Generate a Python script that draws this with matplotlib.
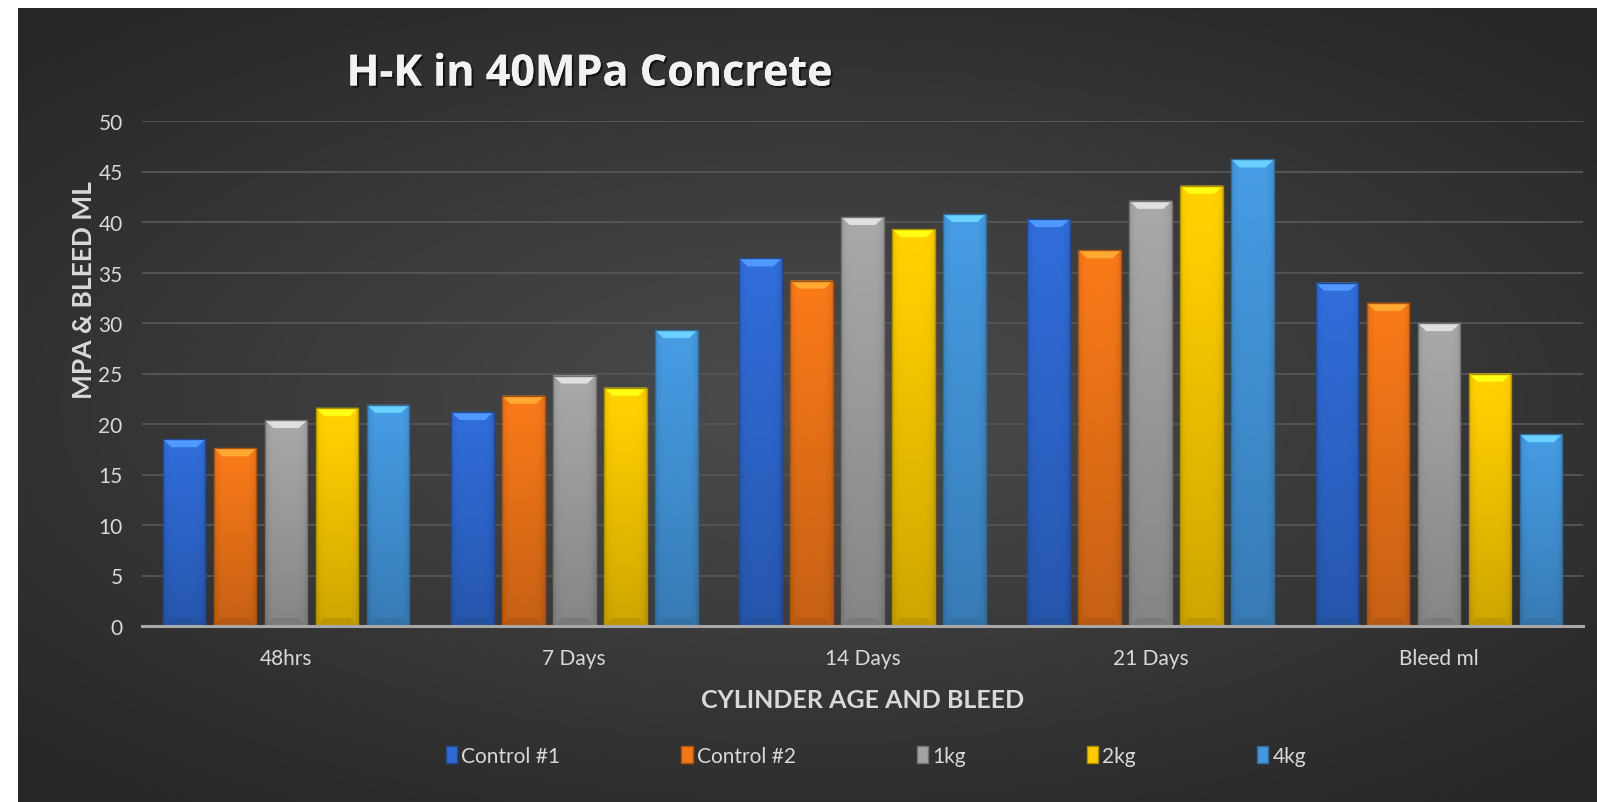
import numpy as np
import matplotlib
matplotlib.use('Agg')
import matplotlib.pyplot as plt
from matplotlib.patches import Patch, Polygon
from matplotlib import patheffects
from matplotlib.colors import to_rgb

# chart data
categories = ['48hrs', '7 Days', '14 Days', '21 Days', 'Bleed ml']
series_names = ['Control #1', 'Control #2', '1kg', '2kg', '4kg']
control1 = [18.5, 21.2, 36.4, 40.3, 34]
control2 = [17.6, 22.8, 34.2, 37.2, 32]
kg1 = [20.4, 24.8, 40.5, 42.1, 30]
kg2 = [21.6, 23.6, 39.3, 43.6, 25]
kg4 = [21.9, 29.3, 40.8, 46.2, 19]
series_values = [control1, control2, kg1, kg2, kg4]
series_colors = ['#2f6ad4', '#f27618', '#a3a3a3', '#fccb00', '#4497dd']

W, H = 1597, 803
fig = plt.figure(figsize=(W / 100, H / 100), dpi=100)
fig.patch.set_facecolor('white')

# dark radial background (chart area, white strip left and top)
bg = fig.add_axes([18 / W, 0, 1 - 18 / W, 1 - 9 / H], zorder=-5)
gx, gy = np.meshgrid(np.linspace(-1, 1, 400), np.linspace(-1, 1, 200))
r = np.sqrt((gx * 0.95) ** 2 + (gy * 1.05) ** 2)
shade = 0.30 - 0.15 * np.clip(r / 1.35, 0, 1)
bg.imshow(np.dstack([shade] * 3), extent=[0, 1, 0, 1], aspect='auto',
          interpolation='bicubic')
bg.set_axis_off()

ax = fig.add_axes([142 / W, 176 / H, (1583 - 142) / W, (681 - 176) / H])
ax.set_facecolor('none')

n = len(series_names)
step = 0.177
width = 0.148
x = np.arange(len(categories))

def shaded_bar(ax, xpos, val, color):
    base = np.array(to_rgb(color))
    bars = ax.bar(xpos, val, width, color=color, edgecolor='none', zorder=3)
    p = bars[0]
    # vertical gradient, lighter on top
    t = np.linspace(0, 1, 64)[:, None]
    s = np.linspace(-1, 1, 32)[None, :]
    fac = 0.82 + 0.22 * t - 0.10 * s ** 6
    img = np.clip(base[None, None, :] * fac[:, :, None], 0, 1)
    im = ax.imshow(img, extent=[xpos - width / 2, xpos + width / 2, 0, val],
                   origin='lower', aspect='auto', zorder=3.1,
                   interpolation='bilinear')
    im.set_clip_path(p)
    # top bevel
    d = width * 0.2
    dy = 0.8
    top = Polygon([[xpos - width / 2, val], [xpos + width / 2, val],
                   [xpos + width / 2 - d, val - dy], [xpos - width / 2 + d, val - dy]],
                  closed=True, facecolor=np.clip(base * 1.25 + 0.08, 0, 1),
                  edgecolor='none', zorder=3.2)
    ax.add_patch(top)
    # bottom bevel, darker
    bot = Polygon([[xpos - width / 2, 0], [xpos + width / 2, 0],
                   [xpos + width / 2 - d, dy], [xpos - width / 2 + d, dy]],
                  closed=True, facecolor=base * 0.75, edgecolor='none', zorder=3.2)
    ax.add_patch(bot)
    # edges
    ax.bar(xpos, val, width, color='none', edgecolor=base * 0.7,
           linewidth=1.0, zorder=3.3)

for i, (vals, col) in enumerate(zip(series_values, series_colors)):
    offs = (i - (n - 1) / 2) * step
    for j, v in enumerate(vals):
        shaded_bar(ax, x[j] + offs, v, col)

ax.set_xlim(-0.5, len(categories) - 0.5)
ax.set_ylim(0, 50)
ax.set_yticks(np.arange(0, 51, 5))
ax.yaxis.grid(True, color='#545454', linewidth=1.4, zorder=0)
ax.set_axisbelow(True)
for sp in ['top', 'right', 'left']:
    ax.spines[sp].set_visible(False)
ax.spines['bottom'].set_color('#a8a8a8')
ax.spines['bottom'].set_linewidth(2.2)
ax.spines['bottom'].set_zorder(4)

ax.set_xticks(x)
ax.set_xticklabels(categories)
ax.tick_params(axis='both', length=0, colors='#d9d9d9', labelsize=15)
ax.tick_params(axis='x', pad=16)
ax.tick_params(axis='y', pad=14)
for lab in ax.get_xticklabels() + ax.get_yticklabels():
    lab.set_family('Lato')

ax.set_xlabel('CYLINDER AGE AND BLEED', family='Lato', fontsize=18,
              fontweight='bold', color='#d9d9d9', labelpad=14)
ax.set_ylabel('MPA & BLEED ML', family='Lato', fontsize=19,
              fontweight='bold', color='#d9d9d9')
ax.yaxis.set_label_coords(-0.032, 0.667)

title = fig.text(589 / W, 1 - 75 / H, 'H-K in 40MPa Concrete', family='Open Sans',
                 fontsize=31, fontweight='bold', color='#f2f2f2',
                 ha='center', va='center')
title.set_path_effects([patheffects.withSimplePatchShadow(offset=(1.5, -1.5),
                                                         shadow_rgbFace='black', alpha=0.6),
                        patheffects.Normal()])

handles = [Patch(facecolor=c, edgecolor=np.array(to_rgb(c)) * 0.7) for c in series_colors]
leg = fig.legend(handles, series_names, loc='center', ncol=5,
                 bbox_to_anchor=(876 / W, 1 - 757 / H), frameon=False,
                 prop={'family': 'Lato', 'size': 15}, labelcolor='#d9d9d9',
                 handlelength=0.55, handleheight=0.9, handletextpad=0.2,
                 columnspacing=5.8)

fig.savefig('out.png', dpi=100)
